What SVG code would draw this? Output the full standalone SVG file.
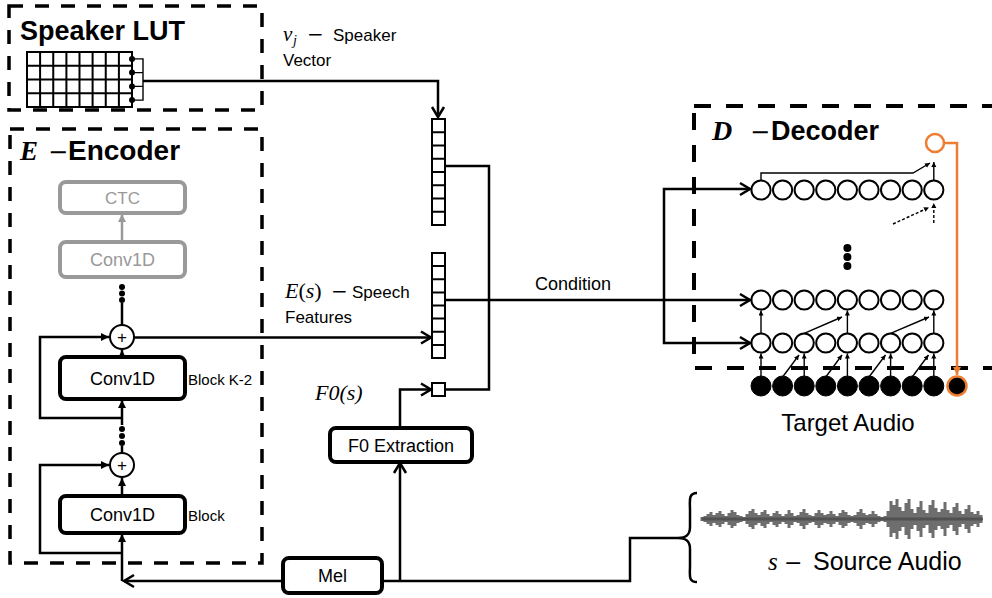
<svg xmlns="http://www.w3.org/2000/svg" width="992" height="598" viewBox="0 0 992 598">
<style>
.bg{fill:#fff}
.dash{fill:none;stroke:#000;stroke-width:3.5;stroke-dasharray:14 12}
.dashd{fill:none;stroke:#000;stroke-width:4;stroke-dasharray:17 15}
.ln{fill:none;stroke:#000;stroke-width:2.5}
.thin{fill:none;stroke:#000;stroke-width:1.4}
.dsh{fill:none;stroke:#000;stroke-width:1.4;stroke-dasharray:3 2}
.box{fill:#fff;stroke:#000;stroke-width:4}
.gbox{fill:#fff;stroke:#999;stroke-width:4}
.cell{fill:#fff;stroke:#000;stroke-width:2}
.oc{fill:#fff;stroke:#000;stroke-width:2}
.bc{fill:#000;stroke:#000;stroke-width:1}
.dot{fill:#000}
.or{fill:none;stroke:#ED7D31;stroke-width:2.5}
.sans{font-family:"Liberation Sans",Arial,sans-serif;fill:#000}
.math{font-family:"Liberation Serif","Times New Roman",serif;font-style:italic;fill:#000}
.mup{font-family:"Liberation Serif","Times New Roman",serif;fill:#000}
.minus{font-family:"DejaVu Sans",sans-serif;fill:#000}
.title{font-family:"Liberation Sans",Arial,sans-serif;font-weight:bold;fill:#000}
.wave{fill:none;stroke:#4a4a4a;stroke-width:3;stroke-opacity:0.8}
</style>
<defs>
<marker id="chev" markerUnits="userSpaceOnUse" markerWidth="14" markerHeight="16" refX="11" refY="7" orient="auto" overflow="visible">
<path d="M1,1 L11,7 L1,13" fill="none" stroke="#000" stroke-width="2.5"/>
</marker>
<marker id="tri" markerUnits="userSpaceOnUse" markerWidth="9" markerHeight="9" refX="8" refY="4" orient="auto">
<path d="M0,0 L8,4 L0,8 z" fill="#000"/>
</marker>
<marker id="trig" markerUnits="userSpaceOnUse" markerWidth="9" markerHeight="9" refX="8" refY="4" orient="auto">
<path d="M0,0 L8,4 L0,8 z" fill="#999"/>
</marker>
<marker id="sm" markerUnits="userSpaceOnUse" markerWidth="6" markerHeight="6" refX="5" refY="2.5" orient="auto">
<path d="M0,0 L5,2.5 L0,5 z" fill="#000"/>
</marker>
<marker id="tor" markerUnits="userSpaceOnUse" markerWidth="9" markerHeight="9" refX="8" refY="4" orient="auto">
<path d="M0,0 L8,4 L0,8 z" fill="#ED7D31"/>
</marker>
</defs>
<rect class="bg" x="0" y="0" width="992" height="598"/>

<g id="speaker-lut">
<rect class="dash" x="9" y="6" width="253" height="104"/>
<text class="title" x="20" y="40" font-size="27">Speaker LUT</text>
<g>
<rect class="cell" x="27" y="52" width="105" height="55"/>
<path class="cell" d="M40.1,52V107M53.25,52V107M66.4,52V107M79.5,52V107M92.6,52V107M105.75,52V107M118.9,52V107M27,65.75H132M27,79.5H132M27,93.25H132"/>
<path class="thin" stroke-width="2" d="M132,58.9H143V100.1H132M132,72.6H143M132,86.4H143"/>
<circle class="dot" cx="132" cy="58.9" r="3"/>
<circle class="dot" cx="132" cy="72.6" r="3"/>
<circle class="dot" cx="132" cy="86.4" r="3"/>
<circle class="dot" cx="132" cy="100.1" r="3"/>
</g>
</g>

<g id="encoder">
<rect class="dash" x="10" y="129" width="252" height="434"/>
<text x="20" y="160"><tspan class="math" font-weight="bold" font-size="27">E</tspan><tspan class="minus" x="48" font-size="24">−</tspan><tspan class="title" x="68" font-size="28">Encoder</tspan></text>
</g>

<g id="ctc">
<rect class="gbox" x="60" y="182" width="125" height="31" rx="6"/>
<text class="sans" x="122.5" y="204" font-size="17" style="fill:#999" text-anchor="middle">CTC</text>
</g>
<g id="conv-gray">
<rect class="gbox" x="60" y="242" width="125" height="35" rx="6"/>
<text class="sans" x="122.5" y="266" font-size="18" style="fill:#999" text-anchor="middle">Conv1D</text>
</g>
<g id="plus-1">
<circle class="oc" cx="122" cy="337" r="12"/>
<text class="sans" x="122" y="343" font-size="17" text-anchor="middle">+</text>
</g>
<g id="conv-k2">
<rect class="box" x="60" y="357" width="125" height="42" rx="6"/>
<text class="sans" x="122.5" y="385" font-size="18" text-anchor="middle">Conv1D</text>
<text class="sans" x="188" y="385" font-size="15">Block K-2</text>
</g>
<g id="plus-2">
<circle class="oc" cx="122" cy="465" r="12"/>
<text class="sans" x="122" y="471" font-size="17" text-anchor="middle">+</text>
</g>
<g id="conv-block">
<rect class="box" x="60" y="496" width="125" height="37" rx="6"/>
<text class="sans" x="122.5" y="521" font-size="18" text-anchor="middle">Conv1D</text>
<text class="sans" x="188" y="521" font-size="15">Block</text>
</g>
<g id="enc-dots">
<circle class="dot" cx="122" cy="287" r="3"/>
<circle class="dot" cx="122" cy="293.5" r="3"/>
<circle class="dot" cx="122" cy="300" r="3"/>
<circle class="dot" cx="122" cy="429" r="3"/>
<circle class="dot" cx="122" cy="436" r="3"/>
<circle class="dot" cx="122" cy="443" r="3"/>
</g>

<g id="speaker-vector">
<rect class="cell" x="432" y="119" width="13" height="106"/>
<path class="cell" d="M432,132.25H445M432,145.5H445M432,158.75H445M432,172H445M432,185.25H445M432,198.5H445M432,211.75H445"/>
<text x="283" y="41"><tspan class="math" font-size="21">v</tspan><tspan class="math" x="293" dy="4" font-size="14">j</tspan><tspan class="minus" x="307" dy="-4" font-size="20">−</tspan><tspan class="sans" x="333" font-size="17">Speaker</tspan></text>
<text class="sans" x="283" y="66" font-size="17">Vector</text>
</g>

<g id="speech-features">
<rect class="cell" x="432" y="253" width="13" height="105"/>
<path class="cell" d="M432,266.1H445M432,279.25H445M432,292.4H445M432,305.5H445M432,318.6H445M432,331.75H445M432,344.9H445"/>
<text x="285" y="298"><tspan class="math" font-size="22">E</tspan><tspan class="mup" font-size="22">(</tspan><tspan class="math" font-size="22">s</tspan><tspan class="mup" font-size="22">)</tspan><tspan class="minus" x="331" font-size="20">−</tspan><tspan class="sans" x="352" font-size="17">Speech</tspan></text>
<text class="sans" x="285" y="323" font-size="17">Features</text>
</g>

<g id="f0-feature">
<rect class="cell" x="432" y="383" width="13" height="13"/>
<text class="math" x="315" y="400" font-size="22">F0(s)</text>
</g>

<g id="f0-extraction">
<rect class="box" x="330" y="428" width="142" height="34" rx="6"/>
<text class="sans" x="401" y="452" font-size="18" text-anchor="middle">F0 Extraction</text>
</g>

<g id="mel">
<rect class="box" x="283" y="558" width="99" height="35" rx="6"/>
<text class="sans" x="332.5" y="582" font-size="18" text-anchor="middle">Mel</text>
</g>

<g id="source-audio">
<path class="ln" d="M697,493 C688,493 690,501 690,510 L690,527 C690,535 686,538 678,538 C686,538 690,541 690,549 L690,566 C690,575 688,582 697,582"/>
<path class="wave" stroke-width="2" d="M702,519H983"/>
<path class="wave" d="M702 517V521M705 516V522M708 514V524M711 512V526M714 515V523M717 513V525M720 511V527M723 514V524M726 516V522M729 513V525M732 510V528M735 512V526M738 515V523M741 516V522M744 517V521M747 514V524M750 511V527M753 509V529M756 513V525M759 515V523M762 512V526M765 510V528M768 514V524M771 516V522M774 513V525M777 511V527M780 514V524M783 516V522M786 514V524M789 510V528M792 513V525M795 516V522M798 515V523M801 512V526M804 509V529M807 513V525M810 515V523M813 516V522M816 513V525M819 510V528M822 513V525M825 515V523M828 514V524M831 511V527M834 514V524M837 516V522M840 513V525M843 510V528M846 512V526M849 515V523M852 516V522M855 515V523M858 512V526M861 509V529M864 513V525M867 515V523M870 514V524M873 511V527M876 514V524M879 516V522M882 517V521M885 516V522M888 511V527M891 501V537M894 505V533M897 499V539M900 507V531M903 511V527M906 503V535M909 499V539M912 509V529M915 513V525M918 507V531M921 501V537M924 510V528M927 513V525M930 505V533M933 500V538M936 508V530M939 512V526M942 509V529M945 502V536M948 510V528M951 513V525M954 507V531M957 503V535M960 511V527M963 514V524M966 509V529M969 505V533M972 512V526M975 514V524M978 511V527M981 515V523"/>
<text x="768" y="570"><tspan class="math" font-size="25">s</tspan><tspan class="minus" x="784" font-size="22">−</tspan><tspan class="sans" x="813" font-size="25">Source Audio</tspan></text>
</g>

<g id="decoder">
<rect class="dashd" x="694" y="106" width="310" height="262"/>
<text x="712" y="140"><tspan class="math" font-weight="bold" font-size="28">D</tspan><tspan class="minus" x="750" font-size="24">−</tspan><tspan class="title" x="771" font-size="27">Decoder</tspan></text>
<g id="dec-row-top">
<circle class="oc" cx="761" cy="190" r="9.6"/><circle class="oc" cx="782.6" cy="190" r="9.6"/><circle class="oc" cx="804.2" cy="190" r="9.6"/><circle class="oc" cx="825.8" cy="190" r="9.6"/><circle class="oc" cx="847.4" cy="190" r="9.6"/><circle class="oc" cx="869" cy="190" r="9.6"/><circle class="oc" cx="890.6" cy="190" r="9.6"/><circle class="oc" cx="912.2" cy="190" r="9.6"/><circle class="oc" cx="933.8" cy="190" r="9.6"/>
</g>
<g id="dec-row-2">
<circle class="oc" cx="761" cy="300" r="9.6"/><circle class="oc" cx="782.6" cy="300" r="9.6"/><circle class="oc" cx="804.2" cy="300" r="9.6"/><circle class="oc" cx="825.8" cy="300" r="9.6"/><circle class="oc" cx="847.4" cy="300" r="9.6"/><circle class="oc" cx="869" cy="300" r="9.6"/><circle class="oc" cx="890.6" cy="300" r="9.6"/><circle class="oc" cx="912.2" cy="300" r="9.6"/><circle class="oc" cx="933.8" cy="300" r="9.6"/>
</g>
<g id="dec-row-3">
<circle class="oc" cx="761" cy="343" r="9.6"/><circle class="oc" cx="782.6" cy="343" r="9.6"/><circle class="oc" cx="804.2" cy="343" r="9.6"/><circle class="oc" cx="825.8" cy="343" r="9.6"/><circle class="oc" cx="847.4" cy="343" r="9.6"/><circle class="oc" cx="869" cy="343" r="9.6"/><circle class="oc" cx="890.6" cy="343" r="9.6"/><circle class="oc" cx="912.2" cy="343" r="9.6"/><circle class="oc" cx="933.8" cy="343" r="9.6"/>
</g>
<circle class="dot" cx="847.4" cy="248" r="4"/>
<circle class="dot" cx="847.4" cy="257" r="4"/>
<circle class="dot" cx="847.4" cy="266" r="4"/>
<circle id="output-sample" cx="935" cy="143" r="9" fill="#fff" stroke="#ED7D31" stroke-width="2.5"/>
</g>

<g id="target-audio">
<circle class="bc" cx="761" cy="386" r="10"/><circle class="bc" cx="782.6" cy="386" r="10"/><circle class="bc" cx="804.2" cy="386" r="10"/><circle class="bc" cx="825.8" cy="386" r="10"/><circle class="bc" cx="847.4" cy="386" r="10"/><circle class="bc" cx="869" cy="386" r="10"/><circle class="bc" cx="890.6" cy="386" r="10"/><circle class="bc" cx="912.2" cy="386" r="10"/><circle class="bc" cx="933.8" cy="386" r="10"/>
<circle cx="957" cy="386" r="9.5" fill="#000" stroke="#ED7D31" stroke-width="2.5"/>
<text class="sans" x="848" y="431" font-size="24" text-anchor="middle">Target Audio</text>
</g>

<g id="connectors">
<path class="ln" d="M143,81H438V117" marker-end="url(#chev)"/>
<path class="ln" d="M445,166H489V389.5H445"/>
<path class="ln" d="M134,337.5H431" marker-end="url(#chev)"/>
<path class="ln" d="M400,428V389.5H431" marker-end="url(#chev)"/>
<path class="ln" d="M400,581V463" marker-end="url(#chev)"/>
<path class="ln" d="M382,581H630V538H678"/>
<path class="ln" d="M283,581H124" marker-end="url(#chev)"/>
<path class="ln" d="M122,581V534" marker-end="url(#tri)"/>
<path class="ln" d="M122,553H40V465H109" marker-end="url(#tri)"/>
<path class="ln" d="M122,496V478" marker-end="url(#tri)"/>
<path class="ln" d="M122,453V446"/>
<path class="ln" d="M122,425V400" marker-end="url(#tri)"/>
<path class="ln" d="M122,418H40V337H109" marker-end="url(#tri)"/>
<path class="ln" d="M122,357V350" marker-end="url(#tri)"/>
<path class="ln" d="M122,325V303"/>
<path fill="none" stroke="#999" stroke-width="2.5" d="M122,242V214" marker-end="url(#trig)"/>
<text class="sans" x="535" y="290" font-size="18">Condition</text>
<path class="ln" d="M445,300H750" marker-end="url(#chev)"/>
<path class="ln" d="M664,300V189H750" marker-end="url(#chev)"/>
<path class="ln" d="M664,300V343H750" marker-end="url(#chev)"/>
<path class="thin" d="M761,180.4V173H913L930,163" marker-end="url(#sm)"/>
<path class="thin" d="M933.8,180.4V162" marker-end="url(#sm)"/>
<path class="dsh" d="M893,224L929,207.5" marker-end="url(#sm)"/>
<path class="dsh" d="M933.8,223V203" marker-end="url(#sm)"/>
<path class="thin" d="M761,333.4V310.5" marker-end="url(#sm)"/>
<path class="thin" d="M847.4,333.4V310.5" marker-end="url(#sm)"/>
<path class="thin" d="M933.8,333.4V310.5" marker-end="url(#sm)"/>
<path class="thin" d="M804.2,333.4L842,317" marker-end="url(#sm)"/>
<path class="thin" d="M890.6,333.4L929,317" marker-end="url(#sm)"/>
<path class="thin" d="M761,376V353.5" marker-end="url(#sm)"/>
<path class="thin" d="M804.2,376V353.5" marker-end="url(#sm)"/>
<path class="thin" d="M847.4,376V353.5" marker-end="url(#sm)"/>
<path class="thin" d="M890.6,376V353.5" marker-end="url(#sm)"/>
<path class="thin" d="M933.8,376V353.5" marker-end="url(#sm)"/>
<path class="thin" d="M782.6,377L799,355" marker-end="url(#sm)"/>
<path class="thin" d="M825.8,377L842,355" marker-end="url(#sm)"/>
<path class="thin" d="M869,377L885.5,355" marker-end="url(#sm)"/>
<path class="thin" d="M912.2,377L928.5,355" marker-end="url(#sm)"/>
<path class="or" d="M944,143H957V375" marker-end="url(#tor)"/>
</g>
</svg>
